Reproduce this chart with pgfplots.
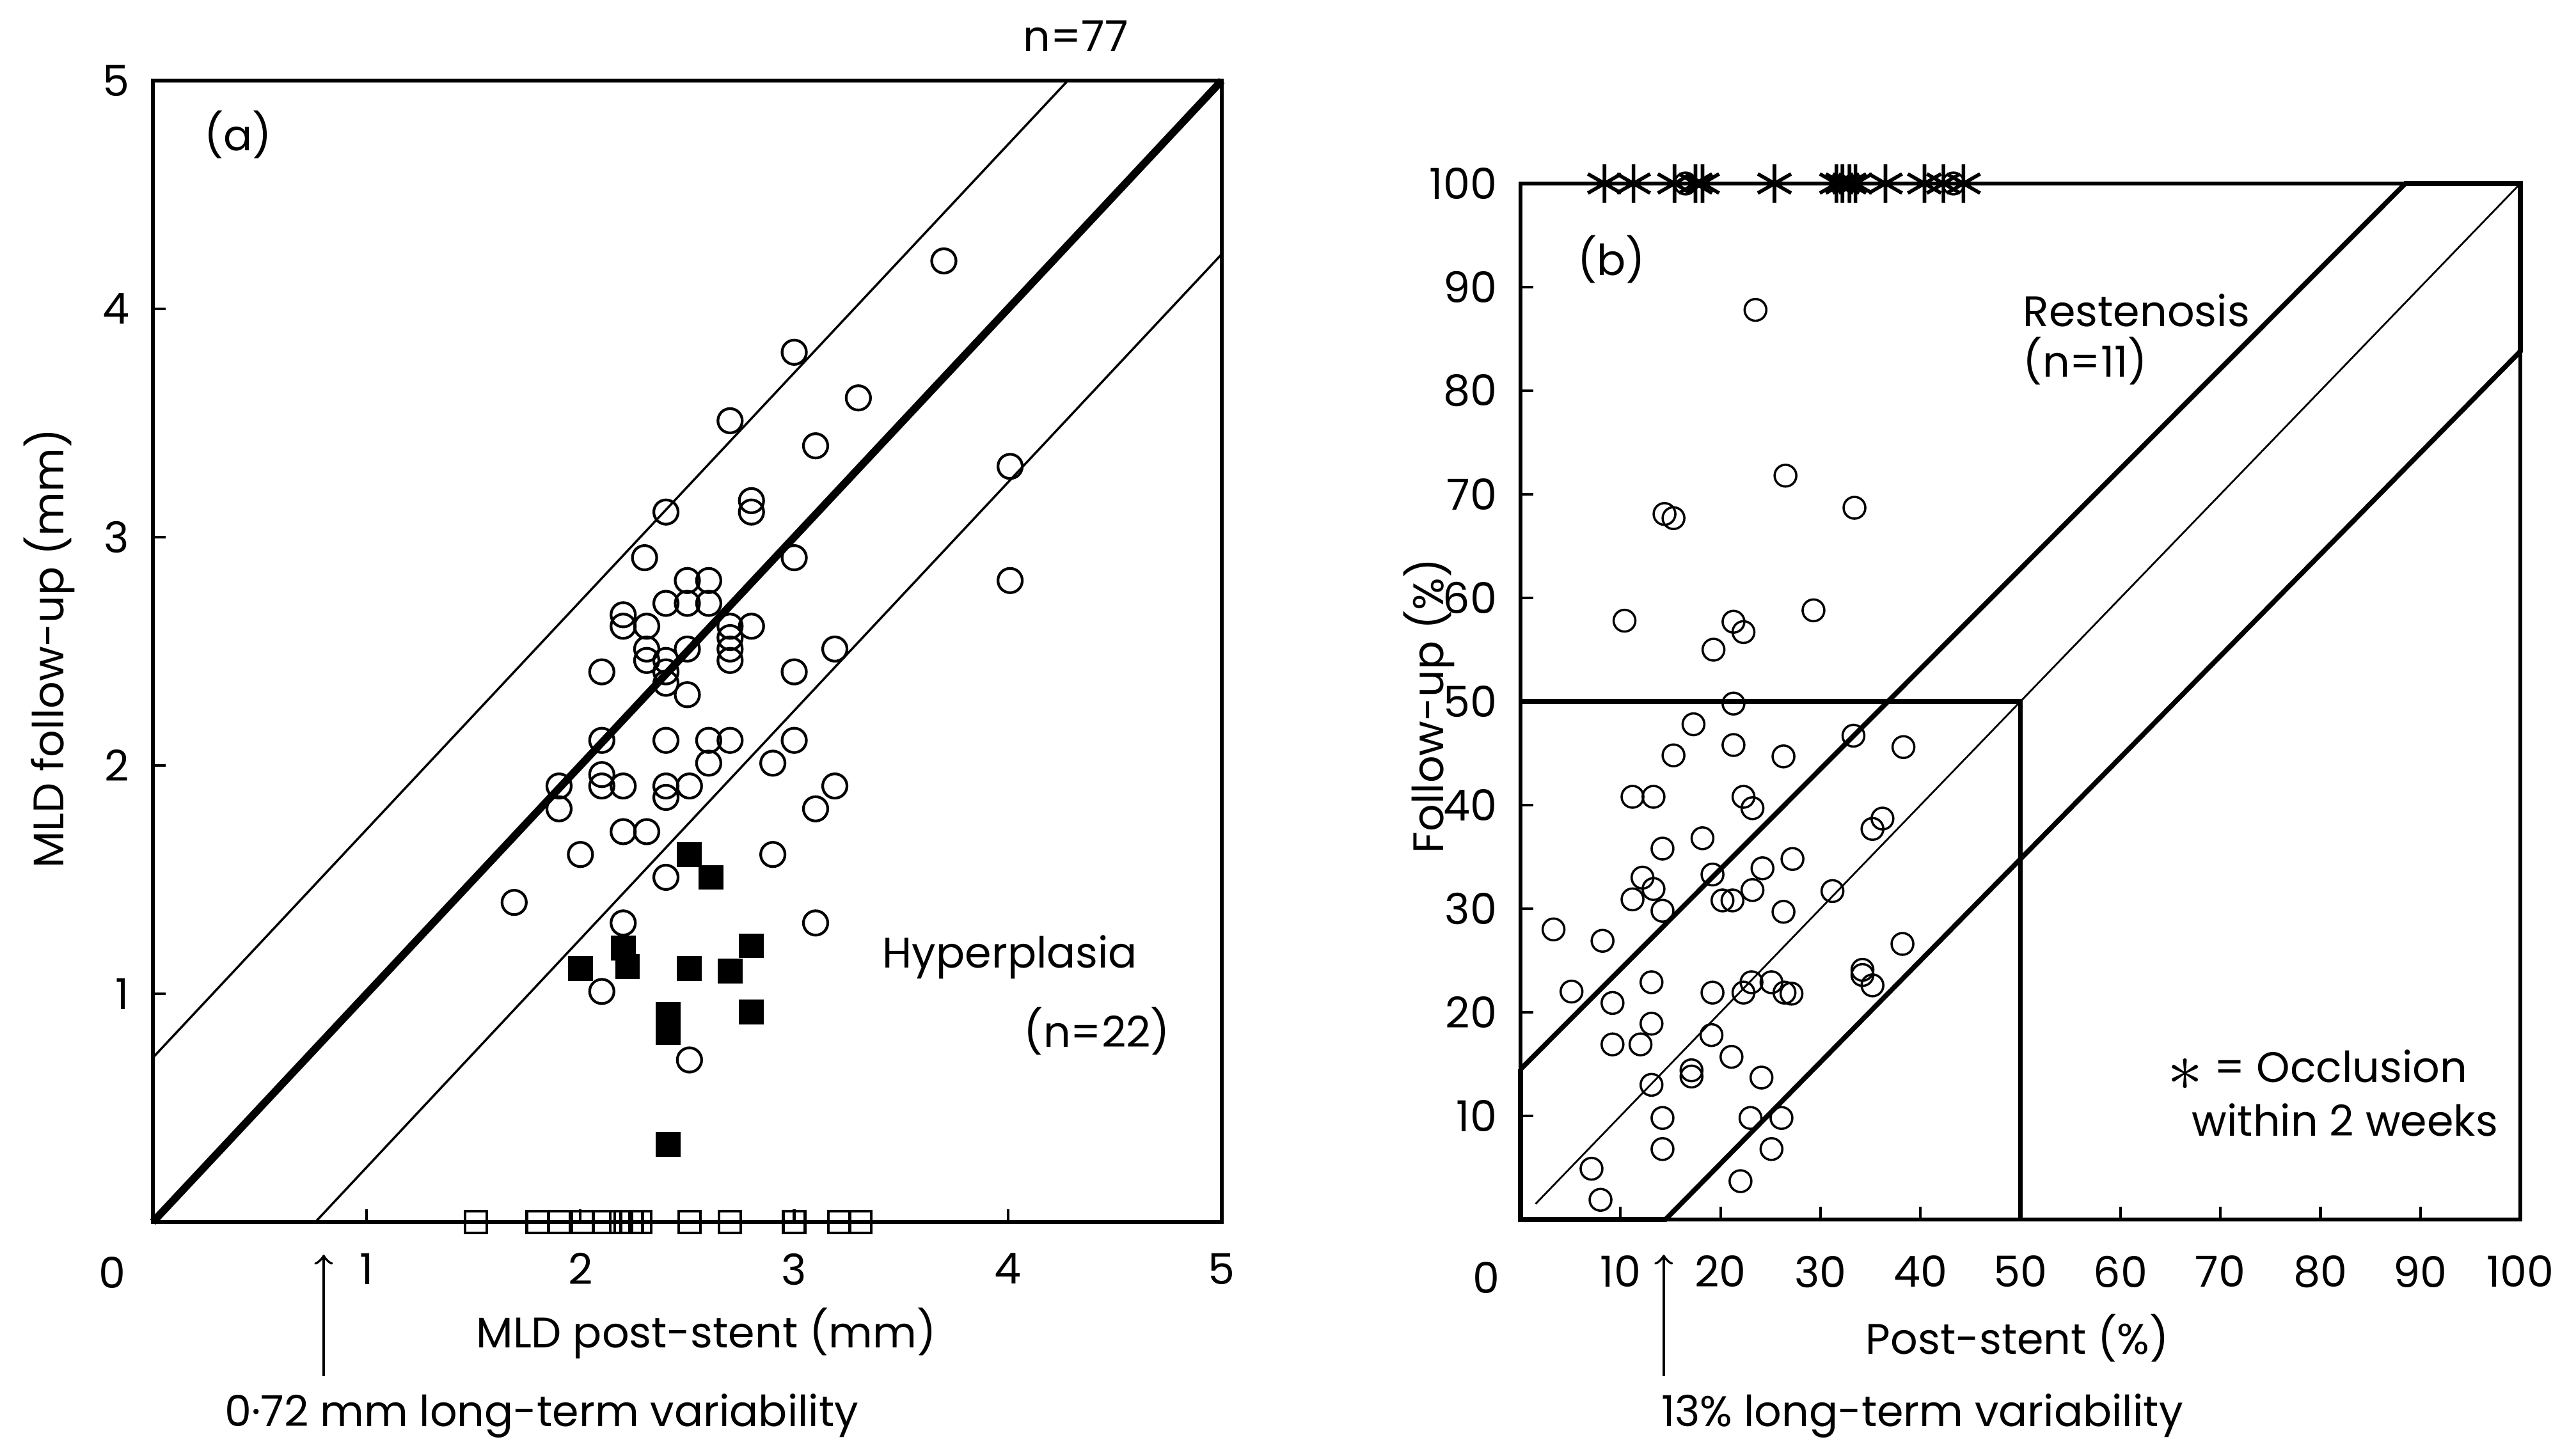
\documentclass[border=0pt]{standalone}
\usepackage{fontspec}
\setmainfont{Poppins}
\usepackage{pgfplots}
\pgfplotsset{compat=1.18}
\newcommand{\lab}{\fontsize{9.5}{11}\selectfont}
\pgfplotsset{
  panel/.style={
    scale only axis, anchor=south west, clip=false,
    axis line style={line width=0.8pt},
    tick pos=left, major tick length=1mm,
    tick style={black, line width=0.6pt},
    ticklabel style={font=\lab},
    /pgf/number format/assume math mode=true,
  },
  circ/.style={only marks, mark=o, mark size=0.95mm, mark options={line width=0.6pt}},
}
\begin{document}
\begin{tikzpicture}
\useasboundingbox (0,0) rectangle (201.35mm,113.45mm);

% (a) MLD
\begin{axis}[panel, at={(11.95mm,17.9mm)}, width=83.55mm, height=89.25mm,
  xmin=0, xmax=5, ymin=0, ymax=5,
  xtick={1,2,3,4,5}, ytick={1,2,3,4,5},
  xticklabel style={yshift=-1.2mm}, yticklabel style={xshift=-0.6mm}]
\addplot[black, line width=1.7pt] coordinates {(0,0) (5,5)};
\addplot[black, line width=0.5pt] coordinates {(0,0.72) (4.28,5)};
\addplot[black, line width=0.5pt] coordinates {(0.76,0) (5,4.24)};
% no hyperplasia
\addplot[circ] coordinates {
 (3.70,4.21) (3.00,3.81) (3.30,3.61) (2.70,3.51) (3.10,3.40) (4.01,3.31)
 (2.40,3.11) (2.80,3.16) (2.80,3.11) (2.30,2.91) (3.00,2.91) (4.01,2.81)
 (2.50,2.81) (2.60,2.81) (2.40,2.71) (2.50,2.71) (2.60,2.71) (2.20,2.66)
 (2.20,2.61) (2.31,2.61) (2.70,2.61) (2.70,2.56) (2.70,2.51) (2.70,2.46)
 (2.80,2.61) (2.31,2.51) (2.31,2.46) (2.40,2.46) (2.40,2.41) (2.40,2.36)
 (2.50,2.51) (2.10,2.41) (3.00,2.41) (2.50,2.31) (3.19,2.51) (2.10,2.11)
 (2.40,2.11) (2.60,2.11) (2.70,2.11) (3.00,2.11) (2.60,2.01) (2.90,2.01)
 (2.10,1.96) (2.10,1.91) (2.20,1.91) (1.90,1.91) (1.90,1.81) (2.40,1.91)
 (2.40,1.86) (2.51,1.91) (3.19,1.91) (3.10,1.81) (2.20,1.71) (2.31,1.71)
 (2.00,1.61) (2.90,1.61) (2.40,1.51) (1.69,1.40) (2.20,1.31) (3.10,1.31)
 (2.10,1.01) (2.51,0.71)
};
% hyperplasia
\addplot[only marks, mark=square*, mark size=0.9mm, black] coordinates {
 (2.51,1.61) (2.61,1.51) (2.00,1.11) (2.20,1.20) (2.22,1.12) (2.51,1.11)
 (2.70,1.10) (2.80,1.21) (2.80,0.92) (2.41,0.91) (2.41,0.83) (2.41,0.34)
};
% occluded
\addplot[only marks, mark=square, mark size=0.85mm, mark options={line width=0.6pt}] coordinates {
 (1.51,0) (1.80,0) (1.90,0) (2.01,0) (2.11,0) (2.19,0) (2.24,0) (2.28,0)
 (2.51,0) (2.70,0) (3.00,0) (3.21,0) (3.31,0)
};
\end{axis}

% (b) percent stenosis
\begin{axis}[panel, at={(118.85mm,18.1mm)}, width=78.15mm, height=81mm,
  xmin=0, xmax=100, ymin=0, ymax=100,
  xtick={0,10,...,100}, xticklabels={,10,20,30,40,50,60,70,80,90,100},
  ytick={10,20,...,100},
  xticklabel style={yshift=-1.6mm}, yticklabel style={xshift=-0.6mm}]
\addplot[black, line width=0.4pt] coordinates {(1.5,1.5) (100,100)};
\addplot[black, line width=1.1pt] coordinates {
 (0,14.5) (88.5,100) (100,100) (100,83.8) (14.5,0) (0,0) (0,14.5)};
\addplot[black, line width=1.1pt] coordinates {(0,50) (50,50) (50,0)};
\addplot[circ, mark size=0.85mm, mark options={line width=0.5pt}] coordinates {
 (23.5,87.8) (26.5,71.8) (14.4,68.1) (15.3,67.7) (33.4,68.7) (10.4,57.8)
 (29.3,58.8) (21.3,57.7) (22.3,56.7) (19.3,55.0)
 (21.3,49.8) (17.3,47.8) (21.3,45.8) (15.3,44.8) (26.3,44.7) (33.3,46.7)
 (38.3,45.6) (11.2,40.8) (13.3,40.8) (22.3,40.8) (23.2,39.7) (36.2,38.7)
 (35.2,37.7) (18.2,36.8) (14.2,35.8) (12.2,33.0) (13.3,31.9) (19.2,33.3)
 (24.2,33.9) (27.2,34.8) (11.2,30.9) (14.2,29.8) (20.2,30.8) (21.2,30.8)
 (23.2,31.8) (26.3,29.7) (31.2,31.7) (3.3,28.0) (8.2,26.9) (38.2,26.6)
 (5.1,22.0) (9.2,20.9) (13.1,22.9) (19.2,21.9) (22.3,21.9) (23.1,22.9)
 (25.1,22.9) (26.4,21.9) (27.1,21.8) (34.2,24.1) (34.2,23.6) (35.2,22.6)
 (13.1,18.9) (9.2,16.9) (12.0,16.9) (19.1,17.8) (21.1,15.7) (17.1,14.4)
 (17.1,13.8) (24.1,13.7) (13.1,13.0) (14.2,9.8) (23.0,9.8) (26.1,9.8)
 (14.2,6.8) (25.1,6.8) (7.1,4.9) (8.0,1.9) (22.0,3.7)
 (16.5,100) (43.3,100)
};
% occlusion within 2 weeks
\addplot[only marks, mark=asterisk, mark size=1.5mm, mark options={line width=0.8pt}] coordinates {
 (8.4,100) (11.3,100) (15.4,100) (17.5,100) (18.2,100) (25.4,100)
 (31.6,100) (32.2,100) (32.9,100) (33.5,100) (36.5,100) (40.4,100)
 (42.3,100) (44.3,100)
};
\end{axis}

% labels, in pixel coordinates of the reference
\begin{scope}[x=0.05mm, y=-0.05mm, yshift=113.45mm, font=\lab]
\node at (1682,56) {n=77};
\node at (372,211) {(a)};
\node at (1579,1497) {Hyperplasia};
\node at (1715,1613) {(n=22)};
\node[rotate=90] at (77,1014) {MLD follow-up (mm)};
\node at (1104,2085) {MLD post-stent (mm)};
\node at (175,1990) {0};
\draw[->, line width=0.6pt] (506,2152) -- (506,1962);
\node at (847,2214) {0·72 mm long-term variability};

\node at (2519,406) {(b)};
\node[rotate=90] at (2234,1104) {Follow-up (\%)};
\node at (3154,2093) {Post-stent (\%)};
\node at (2324,1998) {0};
\draw[->, line width=0.6pt] (2601,2152) -- (2601,1962);
\node at (3005,2214) {13\% long-term variability};
\node[anchor=west] at (3138,485) {Restenosis};
\node[anchor=west] at (3138,565) {(n=11)};
\node[anchor=west] at (3364,1674) {\raisebox{-0.35ex}{\scalebox{1.7}{$\ast$}} = Occlusion};
\node[anchor=west] at (3402,1751) {within 2 weeks};
\end{scope}
\end{tikzpicture}
\end{document}
